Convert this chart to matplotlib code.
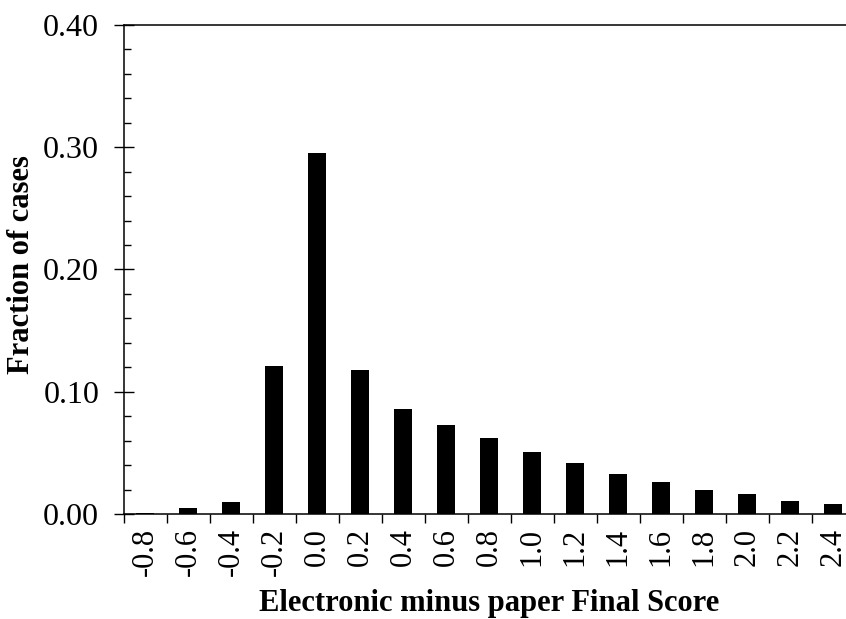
import matplotlib
matplotlib.use('Agg')
import matplotlib.pyplot as plt
import numpy as np
from matplotlib.ticker import MultipleLocator, FixedLocator, NullFormatter, FormatStrFormatter

plt.rcParams['font.family'] = ['Liberation Serif', 'DejaVu Serif']

categories = ['-0.8', '-0.6', '-0.4', '-0.2', '0.0', '0.2', '0.4', '0.6', '0.8',
              '1.0', '1.2', '1.4', '1.6', '1.8', '2.0', '2.2', '2.4']
fractions = [0.001, 0.005, 0.010, 0.121, 0.295, 0.118, 0.086, 0.073, 0.062,
             0.051, 0.042, 0.033, 0.026, 0.020, 0.016, 0.011, 0.008]

fig = plt.figure(figsize=(8.46, 6.19), dpi=100)
# axes runs past the right edge of the figure, as in the original
ax = fig.add_axes([123.5 / 846, 105 / 619, 731 / 846, 489 / 619])

x = np.arange(len(categories))
ax.bar(x, fractions, width=0.42, color='black', edgecolor='none')

ax.yaxis.set_major_locator(MultipleLocator(0.10))
ax.yaxis.set_minor_locator(MultipleLocator(0.02))
ax.yaxis.set_major_formatter(FormatStrFormatter('%.2f'))
ax.tick_params(axis='y', which='major', direction='inout', length=14, width=1,
               labelsize=23, pad=10.5)
ax.tick_params(axis='y', which='minor', direction='in', length=5, width=1)

ax.xaxis.set_major_locator(FixedLocator(np.arange(-0.5, len(categories), 1.0)))
ax.xaxis.set_major_formatter(NullFormatter())
ax.xaxis.set_minor_locator(FixedLocator(x))
ax.set_xticklabels(categories, minor=True, rotation=90)
ax.tick_params(axis='x', which='major', direction='out', length=6.5, width=1)
ax.tick_params(axis='x', which='minor', length=0, labelsize=22, pad=10)

ax.set_xlim(-0.5, len(categories) - 0.5)
ax.set_ylim(0, 0.40)

for s in ['left', 'bottom', 'top', 'right']:
    ax.spines[s].set_linewidth(1.1)

ax.set_ylabel('Fraction of cases', fontsize=22, fontweight='bold', va='center')
ax.set_xlabel('Electronic minus paper Final Score', fontsize=22, fontweight='bold',
              va='center')
ax.yaxis.set_label_coords((22 - 123.5) / 731, (514 - 265) / 489)
ax.xaxis.set_label_coords((489 - 123.5) / 731, (514 - 604) / 489)

plt.savefig('out.png', dpi=100)
